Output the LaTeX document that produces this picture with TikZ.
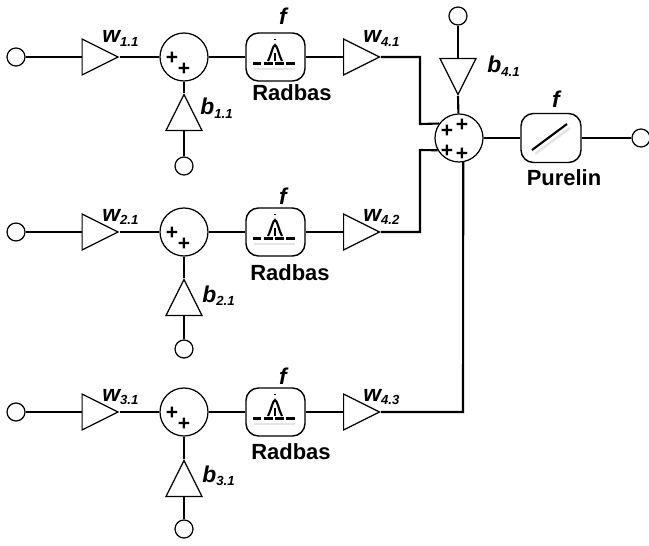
\documentclass[tikz,border=0pt]{standalone}
\usepackage{fontspec}
\setmainfont{Liberation Sans}
\usetikzlibrary{shapes.geometric}

\tikzset{
  wire/.style={line width=1.2pt},
  port/.style={draw,circle,line width=0.7pt,minimum size=0.36cm,inner sep=0pt,fill=white},
  summer/.style={draw,circle,line width=0.7pt,minimum size=0.96cm,inner sep=0pt,fill=white},
  gain/.style={draw,isosceles triangle,isosceles triangle stretches,line width=0.7pt,
    minimum width=0.72cm,minimum height=0.72cm,inner sep=0pt,fill=white,anchor=lower side},
  transfer/.style={draw,rounded corners=2.5mm,line width=0.8pt,minimum width=1.18cm,
    minimum height=0.96cm,inner sep=0pt,fill=white},
  lab/.style={font=\bfseries\itshape\fontsize{13}{13}\selectfont,inner sep=0pt,anchor=base west},
  funcname/.style={font=\bfseries\fontsize{12.5}{12.5}\selectfont,inner sep=0pt},
  plus/.style={font=\bfseries\fontsize{12}{12}\selectfont,inner sep=0pt}
}
\newcommand{\gainlab}[2]{#1\raisebox{-2.2pt}{\fontsize{7.5}{7.5}\selectfont #2}}

\begin{document}
\begin{tikzpicture}

  \useasboundingbox (0,0) rectangle (12.98,10.9);

  %% Hidden layer, one row for each neuron
  \foreach \row/\yy/\lowy/\gapy/\byy/\bx/\fy/\namey/\namex/\wy in {
      1/9.76/7.58/8.28/8.6/4.0/10.58/9.04/5.84/10.04,
      2/6.26/3.92/4.58/4.86/4.04/6.98/5.44/5.8/6.48,
      3/2.66/0.32/0.96/1.26/4.04/3.38/1.86/5.82/2.88}{
    \node[port] (in\row) at (0.32,\yy) {};
    \node[gain] (wg\row) at (1.63,\yy) {};
    \node[summer] (sum\row) at (3.68,\yy) {};
    \node[transfer] (rad\row) at (5.51,\yy) {};
    \node[gain] (wo\row) at (6.86,\yy) {};
    \node[port] (bias\row) at (3.68,\lowy) {};
    \node[gain,shape border rotate=90] (bg\row) at (3.68,\gapy) {};

    \draw[wire] (in\row) -- (wg\row.lower side);
    \draw[wire] (wg\row.apex) -- (sum\row);
    \draw[wire] (sum\row) -- (rad\row);
    \draw[wire] (rad\row) -- (wo\row.lower side);
    \draw[wire] (bias\row) -- (bg\row.lower side);
    \draw[wire] (bg\row.apex) -- (sum\row);

    %% Signs in the summer
    \node[plus] (pa\row) at (3.44,\yy-0.02) {+};
    \node[plus] (pb\row) at (3.68,\yy-0.24) {+};

    %% Radbas icon
    \draw[gray!20,line width=1.4pt] (5.08,\yy-0.24) -- (5.9,\yy-0.24);
    \draw[line width=1.3pt,dash pattern=on 4.8pt off 1.5pt] (5.06,\yy-0.13) -- (5.9,\yy-0.13);
    \draw[line width=1.2pt] (5.36,\yy-0.08) .. controls (5.43,\yy+0.06) and (5.46,\yy+0.24) .. (5.5,\yy+0.24)
      .. controls (5.54,\yy+0.24) and (5.57,\yy+0.06) .. (5.64,\yy-0.08);
    \draw[line width=0.9pt] (5.5,\yy-0.08) -- (5.5,\yy+0.08);
    \fill (5.48,\yy+0.34) rectangle (5.52,\yy+0.36);

    \node[lab,anchor=center] (fr\row) at (5.66,\fy) {f};
    \node[funcname] (rn\row) at (\namex,\namey) {Radbas};
    \node[lab] (wl\row) at (2.04,\wy) {\gainlab{w}{\row.1}};
    \node[lab] (bl\row) at (\bx,\byy) {\gainlab{b}{\row.1}};
    \node[lab] (ol\row) at (7.26,\wy) {\gainlab{w}{4.\row}};
  }

  %% Output layer
  \node[summer] (sumo) at (9.18,8.14) {};
  \node[port] (biaso) at (9.16,10.58) {};
  \node[gain,shape border rotate=-90] (bgo) at (9.16,9.74) {};
  \node[transfer,minimum width=1.2cm,minimum height=0.98cm] (pure) at (11.02,8.14) {};
  \node[port] (out) at (12.82,8.14) {};

  \coordinate (ta) at (8.4,9.76);
  \coordinate (tb) at (8.4,8.42);
  \coordinate (tc) at (8.4,6.26);
  \coordinate (td) at (8.4,7.9);
  \coordinate (te) at (9.26,2.66);

  \draw[wire] (wo1.apex) -- (ta) -- (tb) -- (sumo.144);
  \draw[wire] (wo2.apex) -- (tc) -- (td) -- (sumo.210);
  \draw[wire] (wo3.apex) -- (te) -- (sumo.-80);
  \draw[wire] (biaso) -- (bgo.lower side);
  \draw[wire] (bgo.apex) -- (sumo);
  \draw[wire] (sumo) -- (pure);
  \draw[wire] (pure) -- (out);

  %% Purelin icon
  \draw[gray!20,line width=1.4pt] (10.7,7.82) -- (11.4,8.34);
  \draw[line width=1.2pt] (10.64,7.9) -- (11.34,8.42);

  %% Signs and text
  \node[plus] (pc) at (8.94,8.28) {+};
  \node[plus] (pd) at (9.24,8.4) {+};
  \node[plus] (pe) at (8.94,7.88) {+};
  \node[plus] (pf) at (9.24,7.82) {+};
  \node[lab] (blo) at (9.74,9.44) {\gainlab{b}{4.1}};
  \node[lab,anchor=center] (fo) at (11.12,8.92) {f};
  \node[funcname] (pn) at (11.28,7.34) {Purelin};

\end{tikzpicture}
\end{document}
